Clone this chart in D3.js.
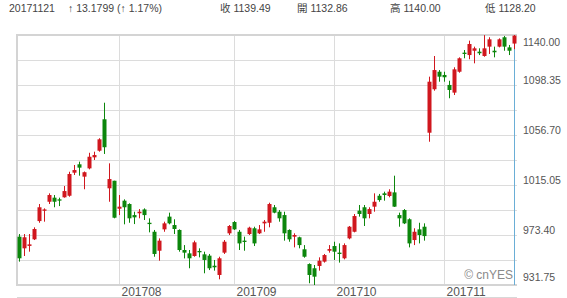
<!DOCTYPE html>
<html lang="zh-Hant">
<head>
<meta charset="utf-8">
<title>K</title>
<style>
  body { margin:0; background:#fff; }
  svg text { font-family: "Liberation Sans", Arial, sans-serif; }
  .cjk { font-family: "Liberation Sans", "Noto Sans CJK TC", sans-serif; }
</style>
</head>
<body>
<script src="https://cdn.jsdelivr.net/npm/d3@7"></script>
<script>

// daily bars 2017-07-03 .. 2017-11-21
var dates = ["20170703","20170705","20170706","20170707","20170710","20170711","20170712","20170713","20170714","20170717",
  "20170718","20170719","20170720","20170721","20170724","20170725","20170726","20170727","20170728","20170731",
  "20170801","20170802","20170803","20170804","20170807","20170808","20170809","20170810","20170811","20170814",
  "20170815","20170816","20170817","20170818","20170821","20170822","20170823","20170824","20170825","20170828",
  "20170829","20170830","20170831","20170901","20170905","20170906","20170907","20170908","20170911","20170912",
  "20170913","20170914","20170915","20170918","20170919","20170920","20170921","20170922","20170925","20170926",
  "20170927","20170928","20170929","20171002","20171003","20171004","20171005","20171006","20171009","20171010",
  "20171011","20171012","20171013","20171016","20171017","20171018","20171019","20171020","20171023","20171024",
  "20171025","20171026","20171027","20171030","20171031","20171101","20171102","20171103","20171106","20171107",
  "20171108","20171109","20171110","20171113","20171114","20171115","20171116","20171117","20171120","20171121"];

var opens = [972.0,962.3,964.3,969.8,985.0,993.6,1001.1,1004.5,1003.1,1004.8,
  1006.1,1025.3,1032.3,1022.0,1028.9,1038.1,1043.6,1069.8,1012.3,1018.6,
  995.3,1002.0,999.2,990.0,991.5,994.7,983.6,976.1,960.3,978.1,
  988.7,981.7,977.6,960.9,958.1,955.9,960.1,957.3,956.2,947.8,
  940.1,958.7,974.8,984.2,976.1,968.7,974.2,979.0,974.8,983.1,
  983.6,996.5,992.8,990.0,977.6,972.0,971.5,961.5,949.2,945.7,
  947.6,951.2,960.3,964.2,958.7,954.0,970.6,976.1,993.7,996.5,
  990.9,997.0,1006.1,1008.1,1005.9,1008.9,990.0,994.2,986.5,969.2,
  978.1,980.3,1058.6,1094.8,1109.4,1106.7,1098.4,1092.0,1109.4,1125.3,
  1123.3,1126.9,1126.1,1122.5,1130.3,1126.9,1130.3,1138.1,1129.7,1132.86];

var highs = [974.2,974.2,974.2,979.8,999.2,995.6,1008.1,1006.7,1004.5,1014.2,
  1026.1,1031.7,1034.5,1026.3,1041.9,1042.8,1054.0,1083.6,1033.1,1018.6,
  1006.7,1003.1,999.8,992.8,995.0,995.6,987.3,977.6,970.6,984.5,
  992.0,986.5,978.1,965.0,960.9,968.7,962.3,959.5,957.6,952.6,
  955.3,969.2,981.7,985.0,977.6,972.0,980.3,980.3,981.7,985.9,
  1000.3,998.4,994.2,992.8,978.1,974.8,972.0,965.0,949.8,948.4,
  954.8,957.6,965.0,967.8,966.4,966.4,980.9,990.9,998.4,998.4,
  996.5,1008.1,1007.6,1009.5,1011.5,1022.8,992.0,995.0,987.3,979.0,
  983.6,983.1,1105.3,1122.5,1110.8,1109.4,1101.9,1113.1,1121.4,1127.5,
  1135.3,1130.3,1128.9,1139.9,1138.1,1130.3,1137.2,1139.2,1131.7,1140.00];

var lows = [951.2,955.9,959.5,969.2,983.6,984.5,999.2,996.5,997.5,1004.5,
  1005.3,1023.4,1022.8,1011.5,1028.1,1035.9,1042.8,1040.9,1001.1,987.3,
  990.0,982.3,983.6,982.5,987.3,985.9,975.6,955.3,952.0,976.1,
  982.3,974.2,959.5,953.9,945.7,955.3,954.8,941.5,944.2,943.7,
  936.5,957.6,973.4,977.6,960.9,960.3,973.4,964.2,974.2,976.1,
  979.8,991.5,984.5,968.7,967.8,963.1,962.3,954.5,933.2,931.75,
  943.7,950.4,958.7,952.6,950.4,953.1,969.8,975.6,988.7,980.9,
  987.3,992.8,1001.1,1002.0,1004.8,996.8,980.3,982.5,963.1,965.0,
  966.4,968.7,1051.1,1093.6,1101.1,1101.1,1087.3,1090.0,1108.6,1120.6,
  1119.8,1116.4,1123.3,1121.9,1124.2,1121.4,1129.7,1126.9,1123.3,1128.20];

var closes = [954.0,971.5,965.6,978.4,996.5,994.7,1006.7,1001.1,1002.0,1010.0,
  1024.2,1027.5,1029.5,1025.7,1038.6,1040.0,1053.1,1046.5,1020.0,987.8,
  997.0,996.5,987.3,988.1,992.8,990.0,982.5,957.6,968.7,983.1,
  983.1,978.4,960.9,958.7,954.0,967.3,959.0,952.6,945.7,946.5,
  954.0,967.8,980.9,978.1,966.4,967.6,979.5,966.4,978.1,984.5,
  999.2,992.0,987.3,974.8,969.8,973.4,965.0,955.3,940.1,938.7,
  952.0,956.7,961.7,959.5,957.6,965.0,980.3,989.2,990.9,987.3,
  995.0,1001.1,1002.5,1006.7,1009.5,997.0,987.3,983.1,966.4,976.1,
  973.4,972.5,1101.1,1110.8,1105.3,1104.8,1094.2,1111.4,1120.6,1124.2,
  1132.5,1128.9,1124.8,1128.9,1136.4,1125.6,1136.4,1130.3,1126.9,1139.49];

var yTicks = [1140.00, 1098.35, 1056.70, 1015.05, 973.40, 931.75];
var monthLabels = ["201708","201709","201710","201711"];

// header line: [text, x]
var headerItems = [
  ["20171121", 9],
  ["\u2191 13.1799 (\u2191 1.17%)", 68],
  ["收 1139.49", 220],
  ["開 1132.86", 297],
  ["高 1140.00", 390],
  ["低 1128.20", 485]
];

var upColor = "#d0171e";
var downColor = "#0c860c";

var w = 567, h = 298;
var pl = 17, pr = 517, pt = 35, pb = 285;

var svg = d3.select("body").append("svg").attr("width", w).attr("height", h);

var data = dates.map(function(d, i){
  return {date:d, o:opens[i], h:highs[i], l:lows[i], c:closes[i]};
});

var x = d3.scaleBand().domain(dates).range([pl, pr]).paddingInner(0.2).paddingOuter(0.1);
var y = d3.scaleLinear().domain([yTicks[5], yTicks[0]]).range([pb, pt]);

// grid
var gridVals = d3.range(1, 10).map(function(k){ return yTicks[5] + (yTicks[0] - yTicks[5]) * k / 10; });
svg.append("g").selectAll("line").data(gridVals).enter().append("line")
  .attr("x1", pl).attr("x2", pr)
  .attr("y1", function(d){ return Math.round(y(d)) + 0.5; })
  .attr("y2", function(d){ return Math.round(y(d)) + 0.5; })
  .attr("stroke", "#dcdcdc").attr("stroke-width", 1);

// month starts
var monthStarts = [];
data.forEach(function(d, i){
  if(i > 0 && d.date.substr(4,2) != data[i-1].date.substr(4,2)) monthStarts.push(d.date);
});
var xc = function(d){ return Math.floor(x(d) + x.bandwidth()/2) + 0.5; };

svg.append("g").selectAll("line").data(monthStarts).enter().append("line")
  .attr("x1", xc).attr("x2", xc)
  .attr("y1", pt).attr("y2", pb)
  .attr("stroke", "#dcdcdc");

svg.append("g").selectAll("text").data(monthStarts).enter().append("text")
  .attr("x", function(d){ return xc(d) + 2; })
  .attr("y", 296)
  .attr("font-size", "12px")
  .attr("fill", "#555")
  .text(function(d, i){ return monthLabels[i]; });

svg.append("line").attr("x1", pl).attr("x2", pr).attr("y1", 297.5).attr("y2", 297.5)
  .attr("stroke", "#d8d8d8");

// frame
svg.append("path")
  .attr("d", "M" + pr + "," + pt + "H" + pl + "V" + pb + "H" + pr)
  .attr("fill", "none").attr("stroke", "#d4d4d4").attr("stroke-width", 2);

// crosshair on last bar
var last = dates[dates.length - 1];
svg.append("line").attr("x1", xc(last)).attr("x2", xc(last))
  .attr("y1", pt).attr("y2", pb)
  .attr("stroke", "#6aaed6");

// candles
var g = svg.append("g").selectAll("g").data(data).enter().append("g");
g.append("line")
  .attr("x1", function(d){ return xc(d.date); })
  .attr("x2", function(d){ return xc(d.date); })
  .attr("y1", function(d){ return y(d.h); })
  .attr("y2", function(d){ return y(d.l); })
  .attr("stroke", function(d){ return d.c >= d.o ? upColor : downColor; });
g.append("rect")
  .attr("x", function(d){ return xc(d.date) - 2; })
  .attr("width", 4)
  .attr("y", function(d){ return y(Math.max(d.o, d.c)); })
  .attr("height", function(d){ return Math.max(1, Math.abs(y(d.o) - y(d.c))); })
  .attr("fill", function(d){ return d.c >= d.o ? upColor : downColor; });

// y labels
svg.append("g").selectAll("text").data(yTicks).enter().append("text")
  .attr("x", 523)
  .attr("y", function(d){ return Math.min(281, Math.max(45.5, y(d) - 1)); })
  .attr("font-size", "10.5px")
  .attr("fill", "#555")
  .text(function(d){ return d.toFixed(2); });

// watermark
svg.append("text").attr("x", 513).attr("y", 279).attr("text-anchor", "end")
  .attr("font-size", "12px").attr("fill", "#8a8a8a")
  .text("\u00a9 cnYES");

// header
svg.append("g").selectAll("text").data(headerItems).enter().append("text")
  .attr("class", "cjk")
  .attr("x", function(d){ return d[1]; })
  .attr("y", 12)
  .attr("font-size", "10.5px")
  .attr("fill", "#444")
  .text(function(d){ return d[0]; });

</script>
</body>
</html>
